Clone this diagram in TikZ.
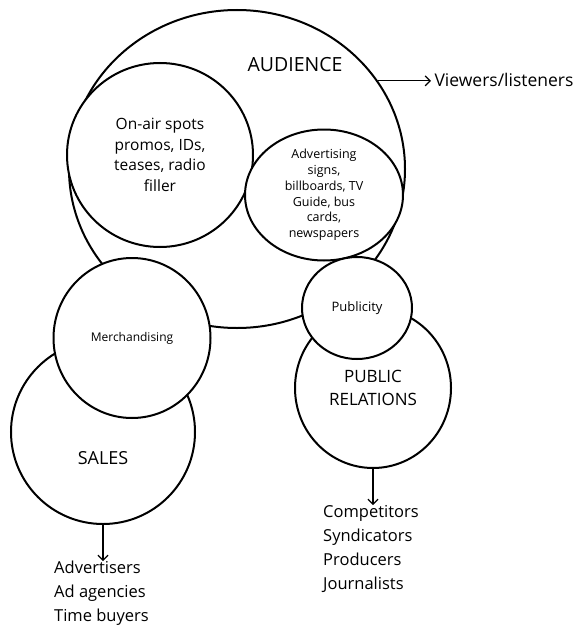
\documentclass[tikz,border=0pt]{standalone}
\usepackage{fontspec}
\setmainfont{Open Sans}
\usepackage{tikz}
\usetikzlibrary{shapes,arrows,arrows.meta}
\tikzstyle{bubble} = [draw, ellipse, line width=2pt, fill=white, inner sep=0pt, align=center]
\tikzstyle{arrow} = [line width=1.2pt,-{Straight Barb[length=5pt,width=10pt]}]
\tikzstyle{list} = [align=left, inner sep=0pt, font=\fontsize{16.5}{24}\selectfont]

\begin{document}
\begin{tikzpicture}[x=1pt,y=-1pt]

        \useasboundingbox (0,0) rectangle (580,626);

        % Big AUDIENCE circle
        \node[bubble, minimum width=336pt, minimum height=318pt] (audience) at (237,169) {};
        \node[font=\fontsize{19.5}{22}\selectfont] (audiencetxt) at (295,65) {AUDIENCE};

        % On-air spots inside the audience circle
        \node[bubble, minimum width=186pt, minimum height=184pt, font=\fontsize{15.5}{20.5}\selectfont] (onair) at (160,155)
            {On-air spots\\promos, IDs,\\teases, radio\\filler};

        % Advertising inside the audience circle
        \node[bubble, minimum width=158pt, minimum height=131pt, font=\fontsize{12.5}{15.8}\selectfont] (advert) at (324,195)
            {Advertising\\signs,\\billboards, TV\\Guide, bus\\cards,\\newspapers};

        % SALES circle, under Merchandising
        \node[bubble, minimum width=184pt, minimum height=184pt] (sales) at (103,432) {};
        \node[font=\fontsize{18}{22}\selectfont] (salestxt) at (103,458) {SALES};

        % Merchandising circle between AUDIENCE and SALES
        \node[bubble, minimum width=157pt, minimum height=160pt, font=\fontsize{12}{14}\selectfont] (merch) at (132,338) {Merchandising};

        % PUBLIC RELATIONS circle, under Publicity
        \node[bubble, minimum width=156pt, minimum height=160pt, font=\fontsize{17}{23}\selectfont] (pr) at (373,388)
            {PUBLIC\\RELATIONS};

        % Publicity circle between AUDIENCE and PUBLIC RELATIONS
        \node[bubble, minimum width=110pt, minimum height=102pt, font=\fontsize{13}{16}\selectfont] (publicity) at (357,308) {Publicity};

        % Who each circle reaches
        \node[anchor=west, font=\fontsize{17.5}{20}\selectfont] (viewers) at (431,80) {Viewers/listeners};
        \node[list, anchor=north west] (buyers) at (54,561) {Advertisers\\Ad agencies\\Time buyers};
        \node[list, anchor=north west] (trade) at (323,505) {Competitors\\Syndicators\\Producers\\Journalists};

        \draw[arrow] (audience.32.6) -- (audience.32.6 -| viewers.west);	% AUDIENCE -> viewers
        \draw[arrow] (sales.south) -- (sales.south |- buyers.north);		% SALES -> buyers
        \draw[arrow] (pr.south) -- (pr.south |- trade.north);			% PR -> trade

\end{tikzpicture}
\end{document}
